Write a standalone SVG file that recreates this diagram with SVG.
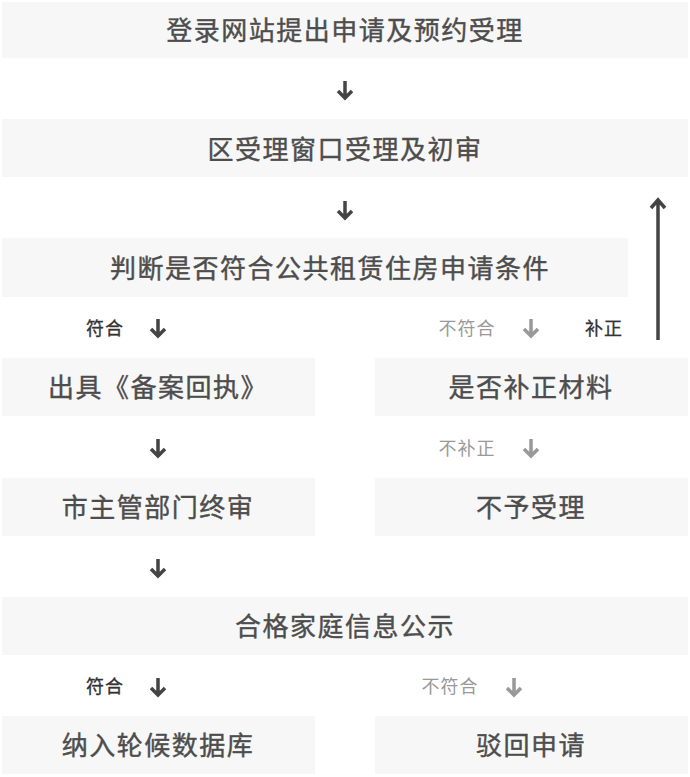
<svg xmlns="http://www.w3.org/2000/svg" width="690" height="777" viewBox="0 0 690 777">
<style>
.box{fill:#f7f7f7}
.t{font-family:"Noto Sans CJK SC","Noto Sans",sans-serif;font-size:26px;fill:#4d4d4d;text-anchor:middle;dominant-baseline:central;letter-spacing:1.5px;stroke:#4d4d4d;stroke-width:0.4px}
.l{font-family:"Noto Sans CJK SC","Noto Sans",sans-serif;font-size:18px;text-anchor:middle;dominant-baseline:central;letter-spacing:1px}
.dk{fill:#333;stroke:#333;stroke-width:0.3px}
.gy{fill:#999}
.a{fill:none;stroke-width:3.5;stroke-linecap:butt}
.ad{stroke:#444}
.ag{stroke:#999}
</style>
<rect width="690" height="777" fill="#fff"/>
<g id="n1"><rect class="box" x="2" y="2" width="686" height="56"/><text class="t" x="345" y="28">登录网站提出申请及预约受理</text></g>
<g id="n2"><rect class="box" x="2" y="119" width="686" height="58"/><text class="t" x="345" y="147">区受理窗口受理及初审</text></g>
<g id="n3"><rect class="box" x="2" y="238" width="626" height="59"/><text class="t" x="330" y="266">判断是否符合公共租赁住房申请条件</text></g>
<g id="n4"><rect class="box" x="2" y="358" width="313" height="58"/><text class="t" x="158" y="385">出具《备案回执》</text></g>
<g id="n5"><rect class="box" x="375" y="358" width="313" height="58"/><text class="t" x="531" y="385">是否补正材料</text></g>
<g id="n6"><rect class="box" x="2" y="478" width="313" height="58"/><text class="t" x="158" y="505">市主管部门终审</text></g>
<g id="n7"><rect class="box" x="375" y="478" width="313" height="58"/><text class="t" x="531" y="505">不予受理</text></g>
<g id="n8"><rect class="box" x="2" y="597" width="686" height="58"/><text class="t" x="345" y="624">合格家庭信息公示</text></g>
<g id="n9"><rect class="box" x="2" y="716" width="313" height="58"/><text class="t" x="158" y="743">纳入轮候数据库</text></g>
<g id="n10"><rect class="box" x="375" y="716" width="313" height="58"/><text class="t" x="531" y="743">驳回申请</text></g>
<g id="connectors">
<path class="a ad" d="M345 81V98M338 91L345 98L352 91"/>
<path class="a ad" d="M345 201V218M338 211L345 218L352 211"/>
<path class="a ad" d="M158 319V336M151 329L158 336L165 329"/>
<path class="a ag" d="M531 319V336M524 329L531 336L538 329"/>
<path class="a ad" d="M658 340V200M651 208L658 200L665 208"/>
<path class="a ad" d="M158 439V456M151 449L158 456L165 449"/>
<path class="a ag" d="M531 439V456M524 449L531 456L538 449"/>
<path class="a ad" d="M158 559V576M151 569L158 576L165 569"/>
<path class="a ad" d="M158 678V695M151 688L158 695L165 688"/>
<path class="a ag" d="M514 678V695M507 688L514 695L521 688"/>
<text class="l dk" x="105" y="327">符合</text>
<text class="l gy" x="467" y="327">不符合</text>
<text class="l dk" x="604" y="327">补正</text>
<text class="l gy" x="467" y="447">不补正</text>
<text class="l dk" x="105" y="685">符合</text>
<text class="l gy" x="450" y="685">不符合</text>
</g>
</svg>
